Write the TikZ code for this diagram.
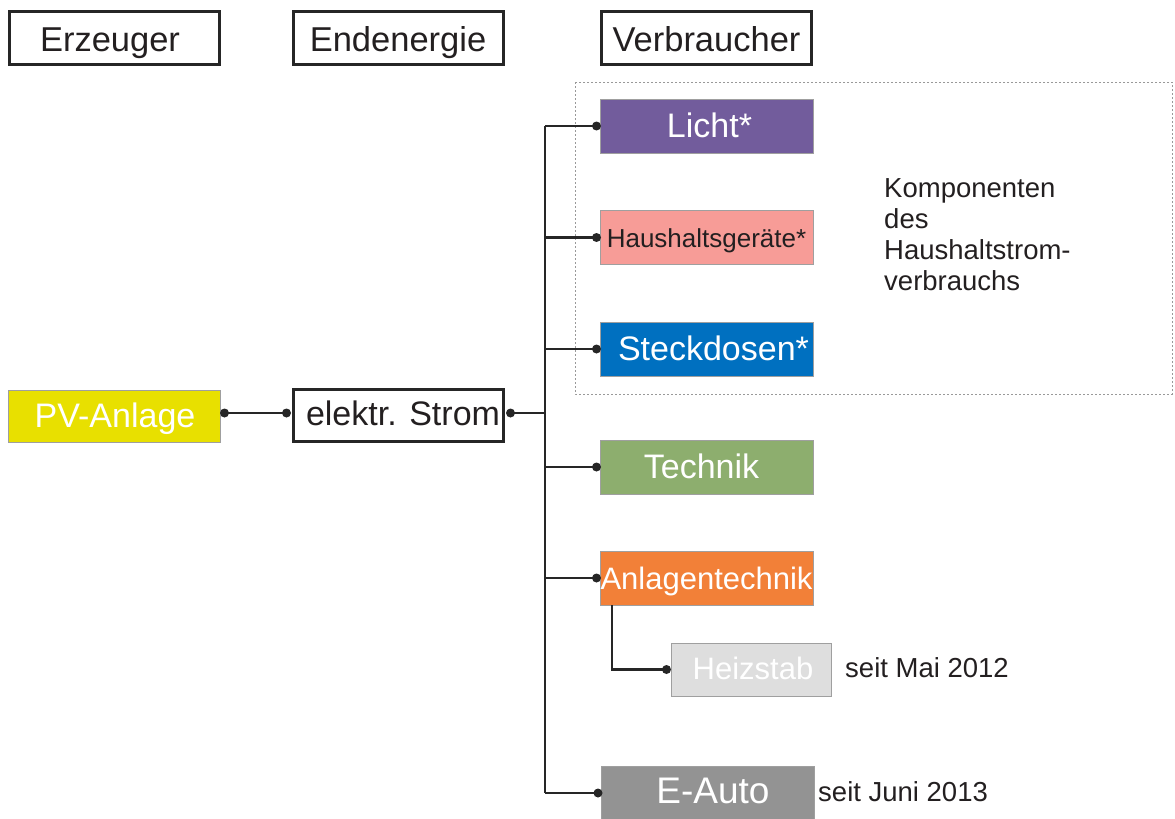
\documentclass[tikz,border=0pt]{standalone}
\usepackage{fontspec}
\setmainfont{Liberation Sans}
\begin{document}
\begin{tikzpicture}[x=1pt,y=-1pt,
  hdr/.style={draw=black!85, line width=3pt, minimum width=210pt, minimum height=53pt, inner sep=0pt, text=txt, font=\fontsize{34.5}{41}\selectfont, text height=28pt, text depth=0pt},
  cbox/.style={draw=gray!75, line width=1pt, minimum width=213pt, minimum height=54pt, inner sep=0pt, text=white, font=\fontsize{34}{41}\selectfont, text height=22pt, text depth=0pt},
  wire/.style={line width=2.6pt, draw=black!85},
  dot/.style={fill=black!85, circle, inner sep=0pt, minimum size=9pt},
  lbl/.style={anchor=west, text=txt, inner sep=0pt, font=\fontsize{27.5}{31}\selectfont}]
\definecolor{txt}{HTML}{231F20}
\definecolor{cLicht}{HTML}{725C9C}
\definecolor{cHaus}{HTML}{F79C97}
\definecolor{cSteck}{HTML}{0070C0}
\definecolor{cTech}{HTML}{8DAE6E}
\definecolor{cAnl}{HTML}{F28038}
\definecolor{cHeiz}{HTML}{DEDEDE}
\definecolor{cAuto}{HTML}{939393}
\definecolor{cPV}{HTML}{E8E000}
\useasboundingbox (0,0) rectangle (1175,819);

% header boxes
\node[hdr] (erz) at (114,37.5) {\hspace*{-8pt}Erzeuger};
\node[hdr] (end) at (398,37.5) {Endenergie};
\node[hdr] (ver) at (706.5,37.5) {Verbraucher};

% dotted frame
\draw[gray!80, line width=1pt, dash pattern=on 2pt off 2pt] (575,82) rectangle (1172,394);

% producer and final energy
\node[cbox, fill=cPV, minimum width=212pt, minimum height=52pt] (pv) at (114,416) {\hspace*{2pt}PV-Anlage};
\node[hdr, minimum width=210pt, minimum height=52pt, font=\fontsize{34}{41}\selectfont, text height=20pt] (strom) at (398,415) {\hspace*{10pt}elektr. Strom};

% consumers
\node[cbox, fill=cLicht] (licht) at (706.5,126) {\hspace*{6pt}Licht*};
\node[cbox, fill=cHaus, text=txt, font=\fontsize{26}{31}\selectfont, text height=19pt] (haus) at (706.5,237.5) {Haushaltsger\"ate*};
\node[cbox, fill=cSteck] (steck) at (706.5,349) {\hspace*{14pt}Steckdosen*};
\node[cbox, fill=cTech] (tech) at (706.5,467) {\hspace*{-10pt}Technik};
\node[cbox, fill=cAnl, font=\fontsize{31}{37}\selectfont] (anl) at (706.5,578) {Anlagentechnik};
\node[cbox, fill=cHeiz, minimum width=160pt, minimum height=53pt, font=\fontsize{31}{37}\selectfont, text height=19pt] (heiz) at (751,669.5) {\hspace*{4pt}Heizstab};
\node[cbox, fill=cAuto, font=\fontsize{37}{44}\selectfont, text height=20pt] (auto) at (708,793) {\hspace*{10pt}E-Auto};

% labels
\node[lbl, anchor=north west, align=left] (komp) at (884,178) {Komponenten\\des\\Haushaltstrom-\\verbrauchs};
\node[lbl] (mai) at (845,668) {seit Mai 2012};
\node[lbl] (juni) at (818,792) {seit Juni 2013};

% connectors
\coordinate (bus) at (545,413);
\coordinate (bustop) at (545,126);
\coordinate (busbot) at (545,793);
\draw[wire] ([xshift=4pt]pv.east |- bus) node[dot]{} -- ([xshift=-5pt]strom.west |- bus) node[dot]{};
\draw[wire] ([xshift=6pt]strom.east |- bus) node[dot]{} -- (bus);
\draw[wire] (bustop) -- (busbot);
\foreach \n in {licht,haus,steck,tech,anl,auto}{
  \draw[wire] (bus |- \n.west) -- ([xshift=-3pt]\n.west) node[dot]{};
}
\coordinate (sub) at (612,605);
\draw[wire] (sub) |- ([xshift=-4pt]heiz.west) node[dot]{};
\end{tikzpicture}
\end{document}
